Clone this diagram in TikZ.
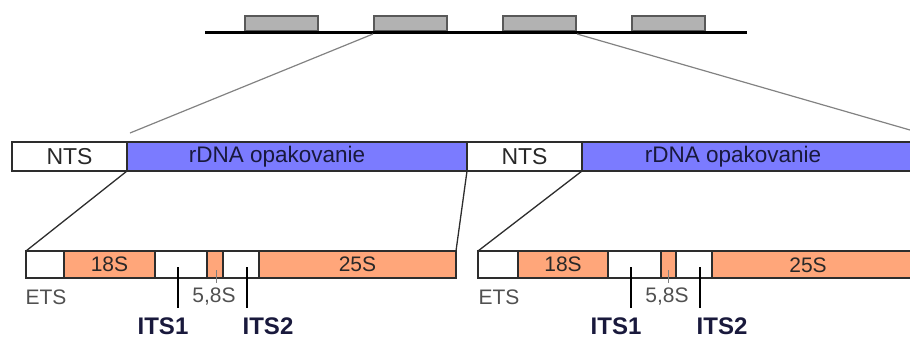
\documentclass[tikz,border=0pt]{standalone}
\usepackage{fontspec}
\setmainfont{Liberation Sans}
\definecolor{rblue}{RGB}{123,123,255}
\definecolor{rorange}{RGB}{255,166,122}
\definecolor{boxgray}{RGB}{178,178,178}
\definecolor{edge}{RGB}{45,45,45}
\definecolor{txt}{RGB}{40,40,40}
\definecolor{navy}{RGB}{25,25,60}
\definecolor{lbl}{RGB}{80,80,80}
\definecolor{conn}{RGB}{130,130,130}
\begin{document}
\begin{tikzpicture}[x=1pt,y=-1pt,
  seg/.style={draw=edge, line width=1.6pt, inner sep=0pt, outer sep=0pt, anchor=north west,
    font=\fontsize{21}{21}\selectfont, text=txt},
  midseg/.style={seg, minimum height=29pt, font=\fontsize{23}{23}\selectfont},
  lowseg/.style={seg, minimum height=27pt},
  topbox/.style={draw=gray!70!black, line width=1.2pt, fill=boxgray, inner sep=0pt, outer sep=0pt,
    anchor=north west, minimum width=73pt, minimum height=15pt},
  lbltxt/.style={font=\fontsize{21}{21}\selectfont, text=lbl, inner sep=0pt},
  rdnatxt/.style={font=\fontsize{22.5}{22.5}\selectfont, text=navy, inner sep=0pt},
  itstxt/.style={font=\fontsize{24}{24}\selectfont\bfseries, text=navy, inner sep=0pt},
  tick/.style={line width=1.5pt, draw=black},
  smalltick/.style={line width=1pt, draw=gray},
  zoomline/.style={line width=1.2pt, draw=conn},
  linkline/.style={line width=1.3pt, draw=edge}]
\useasboundingbox (0,0) rectangle (910,338);
\clip (0,0) rectangle (910,338);

% top chromosome
\node[topbox] (g1) at (245,16) {};
\node[topbox] (g2) at (374,16) {};
\node[topbox] (g3) at (503,16) {};
\node[topbox] (g4) at (632,16) {};
\coordinate (la) at (205,32);
\coordinate (lb) at (747,32);
\draw[line width=3pt] (la) -- (lb);

% middle row
\node[midseg, fill=white, minimum width=115pt] (n1) at (12,142) {NTS};
\node[midseg, fill=rblue, minimum width=340pt] (b1) at (127,142) {};
\node[midseg, fill=white, minimum width=115pt] (n2) at (467,142) {NTS};
\node[midseg, fill=rblue, minimum width=360pt] (b2) at (582,142) {};
\node[rdnatxt] (t1) at (277,157) {rDNA opakovanie};
\node[rdnatxt] (t2) at (733,157) {rDNA opakovanie};

% bottom row 1
\node[lowseg, fill=white, minimum width=38pt] (e1) at (26,251) {};
\node[lowseg, fill=rorange, minimum width=91pt] (r1) at (64,251) {18S};
\node[lowseg, fill=white, minimum width=52pt] (i1) at (155,251) {};
\node[lowseg, fill=rorange, minimum width=16pt] (f1) at (207,251) {};
\node[lowseg, fill=white, minimum width=36pt] (j1) at (223,251) {};
\node[lowseg, fill=rorange, minimum width=197pt] (q1) at (259,251) {25S};

% bottom row 2
\node[lowseg, fill=white, minimum width=40pt] (e2) at (478,251) {};
\node[lowseg, fill=rorange, minimum width=90pt] (r2) at (518,251) {18S};
\node[lowseg, fill=white, minimum width=53pt] (i2) at (608,251) {};
\node[lowseg, fill=rorange, minimum width=15pt] (f2) at (661,251) {};
\node[lowseg, fill=white, minimum width=36pt] (j2) at (676,251) {};
\node[lowseg, fill=rorange, minimum width=240pt] (q2) at (712,251) {};
\node[lbltxt, text=txt] (q2t) at (808,265) {25S};

% labels row 1
\node[lbltxt] (ets1) at (46,297) {ETS};
\node[lbltxt] (s1) at (214,297) {5,8S};
\node[itstxt] (its1a) at (163,326) {ITS1};
\node[itstxt] (its2a) at (268,326) {ITS2};
% labels row 2
\node[lbltxt] (ets2) at (499,297) {ETS};
\node[lbltxt] (s2) at (667,297) {5,8S};
\node[itstxt] (its1b) at (616,326) {ITS1};
\node[itstxt] (its2b) at (722,326) {ITS2};

% ticks
\coordinate (k1a) at (178,267); \coordinate (k1b) at (178,308);
\coordinate (k2a) at (247,267); \coordinate (k2b) at (247,308);
\coordinate (k3a) at (216,270); \coordinate (k3b) at (216,283);
\coordinate (k4a) at (631,267); \coordinate (k4b) at (631,308);
\coordinate (k5a) at (700,267); \coordinate (k5b) at (700,308);
\coordinate (k6a) at (668,270); \coordinate (k6b) at (668,283);
\draw[tick] (k1a) -- (k1b);
\draw[tick] (k2a) -- (k2b);
\draw[smalltick] (k3a) -- (k3b);
\draw[tick] (k4a) -- (k4b);
\draw[tick] (k5a) -- (k5b);
\draw[smalltick] (k6a) -- (k6b);

% zoom lines from chromosome
\coordinate (z1a) at (373,34); \coordinate (z1b) at (130,133);
\coordinate (z2a) at (577,34); \coordinate (z2b) at (910,130);
\draw[zoomline] (z1a) -- (z1b);
\draw[zoomline] (z2a) -- (z2b);

% links middle to bottom
\draw[linkline] (n1.south east) -- (e1.north west);
\draw[linkline] (b1.south east) -- (q1.north east);
\draw[linkline] (n2.south east) -- (e2.north west);
\end{tikzpicture}
\end{document}
